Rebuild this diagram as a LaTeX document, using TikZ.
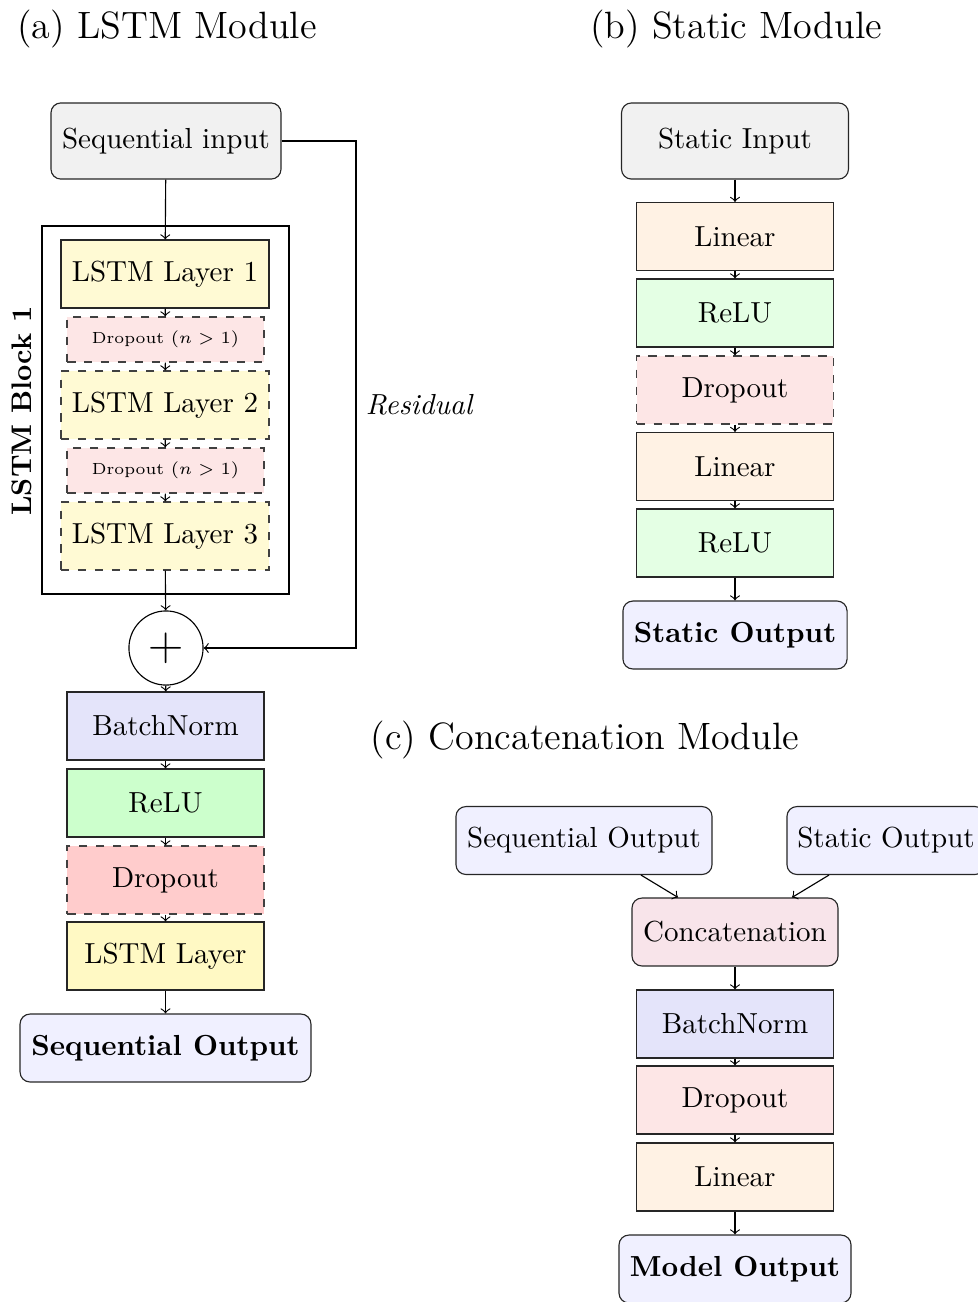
\documentclass[tikz,border=0pt]{standalone}
\usepackage{xcolor}
\definecolor{inputgray}{RGB}{241,241,241}
\definecolor{lstmyellow}{RGB}{255,250,212}
\definecolor{lstmyellowb}{RGB}{255,249,196}
\definecolor{droppink}{RGB}{253,230,230}
\definecolor{dropred}{RGB}{255,204,204}
\definecolor{normblue}{RGB}{228,228,250}
\definecolor{relugreen}{RGB}{204,255,204}
\definecolor{relulight}{RGB}{228,255,228}
\definecolor{outblue}{RGB}{240,240,255}
\definecolor{linorange}{RGB}{255,242,228}
\definecolor{catpink}{RGB}{248,228,234}
\newcommand\bodysize{\fontsize{10.25}{12.3}\selectfont}
\newcommand\titlesize{\fontsize{13.45}{16}\selectfont}
\newcommand\dropsize{\fontsize{5.7}{6.8}\selectfont}
\begin{document}
\begin{tikzpicture}[x=0.3534pt,y=-0.3534pt,
  font=\bodysize,
  layer/.style={draw=black!85, minimum width=69.6pt, minimum height=24pt, inner sep=2pt},
  dashedlayer/.style={layer, dashed, draw=black!75},
  endbox/.style={draw=black!85, rounded corners=3.5pt, minimum height=24pt, inner sep=2pt},
  title/.style={font=\titlesize, anchor=base},
  conn/.style={->}]
\useasboundingbox (0,0) rectangle (977,1302);

% ---------- (a) LSTM module ----------
\node[title] (ta) at (167,38) {(a) LSTM Module};
\node[endbox, fill=inputgray, minimum width=81.3pt, minimum height=26.9pt] (seqin) at (166,141) {Sequential input};
\node[draw, thick, minimum width=87.3pt, minimum height=130pt] (block) at (165.5,410) {};
\node[rotate=90, font=\fontsize{10}{12}\selectfont\bfseries] (blocklbl) at (22,411) {LSTM Block 1};
\node[layer, fill=lstmyellow, minimum width=73.5pt] (l1) at (165,274) {LSTM Layer 1};
\node[dashedlayer, fill=droppink, minimum height=15.9pt, font=\dropsize] (d1) at (165.5,339.5) {Dropout $(n>1)$};
\node[dashedlayer, fill=lstmyellow, minimum width=73.5pt] (l2) at (165,405) {LSTM Layer 2};
\node[dashedlayer, fill=droppink, minimum height=15.9pt, font=\dropsize] (d2) at (165.5,470.5) {Dropout $(n>1)$};
\node[dashedlayer, fill=lstmyellow, minimum width=73.5pt] (l3) at (165,536) {LSTM Layer 3};
\node[draw, circle, minimum size=26.2pt, inner sep=0pt, font=\fontsize{16}{19}\selectfont] (plus) at (166,648) {$+$};
\node[layer, fill=normblue] (bn) at (165.5,726) {BatchNorm};
\node[layer, fill=relugreen] (relu) at (165.5,803) {ReLU};
\node[dashedlayer, fill=dropred] (drop) at (165.5,880) {Dropout};
\node[layer, fill=lstmyellowb] (lstm) at (165.5,956) {LSTM Layer};
\node[endbox, fill=outblue, minimum width=102.8pt, font=\bodysize\bfseries] (seqout) at (165.5,1048) {Sequential Output};

\draw[conn] (seqin) -- (l1);
\draw[conn] (l1) -- (d1);
\draw[conn] (d1) -- (l2);
\draw[conn] (l2) -- (d2);
\draw[conn] (d2) -- (l3);
\draw[conn] (l3) -- (plus);
\draw[conn] (plus) -- (bn);
\draw[conn] (bn) -- (relu);
\draw[conn] (relu) -- (drop);
\draw[conn] (drop) -- (lstm);
\draw[conn] (lstm) -- (seqout);
\coordinate (rescorner) at (356,141);
\draw[conn] (seqin.east) -- (rescorner) |- (plus.east);
\node[font=\bodysize\itshape] (reslbl) at (419,405) {Residual};

% ---------- (b) Static module ----------
\node[title] (tb) at (736,38) {(b) Static Module};
\node[endbox, fill=inputgray, minimum width=80.2pt, minimum height=26.9pt] (stin) at (735,141) {Static Input};
\node[layer, fill=linorange] (lin1) at (735,236.5) {Linear};
\node[layer, fill=relulight] (relu1) at (735,313) {ReLU};
\node[dashedlayer, fill=droppink] (sdrop) at (735,390) {Dropout};
\node[layer, fill=linorange] (lin2) at (735,466.5) {Linear};
\node[layer, fill=relulight] (relu2) at (735,543) {ReLU};
\node[endbox, fill=outblue, minimum width=79.2pt, font=\bodysize\bfseries] (stout) at (735,635) {Static Output};

\draw[conn] (stin) -- (lin1);
\draw[conn] (lin1) -- (relu1);
\draw[conn] (relu1) -- (sdrop);
\draw[conn] (sdrop) -- (lin2);
\draw[conn] (lin2) -- (relu2);
\draw[conn] (relu2) -- (stout);

% ---------- (c) Concatenation module ----------
\node[title] (tc) at (585,749) {(c) Concatenation Module};
\node[endbox, fill=outblue, minimum width=90.5pt] (cseq) at (584,840.5) {Sequential Output};
\node[endbox, fill=outblue, minimum width=70pt] (cst) at (886,840.5) {Static Output};
\node[endbox, fill=catpink, minimum width=72.8pt] (cat) at (735,932) {Concatenation};
\node[layer, fill=normblue] (cbn) at (735,1024) {BatchNorm};
\node[layer, fill=droppink] (cdrop) at (735,1100) {Dropout};
\node[layer, fill=linorange] (clin) at (735,1177) {Linear};
\node[endbox, fill=outblue, minimum width=82pt, font=\bodysize\bfseries] (mout) at (735,1269) {Model Output};

\draw[conn] (cseq) -- (cat);
\draw[conn] (cst) -- (cat);
\draw[conn] (cat) -- (cbn);
\draw[conn] (cbn) -- (cdrop);
\draw[conn] (cdrop) -- (clin);
\draw[conn] (clin) -- (mout);
\end{tikzpicture}
\end{document}
